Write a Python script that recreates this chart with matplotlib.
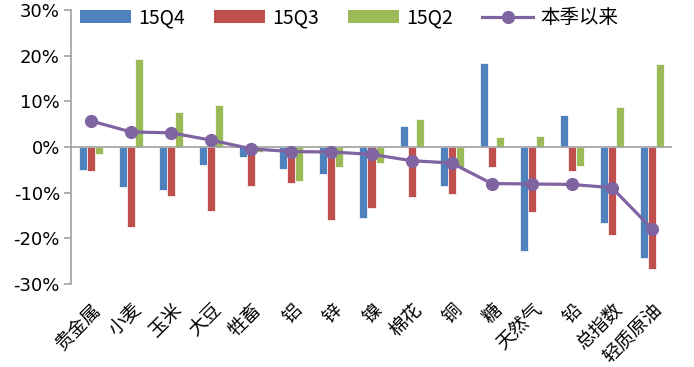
import matplotlib
matplotlib.use("Agg")
import matplotlib.pyplot as plt
import numpy as np
from matplotlib.lines import Line2D
from matplotlib.patches import Patch

plt.rcParams['font.family'] = ['Noto Sans CJK SC', 'DejaVu Sans']

categories = ["贵金属", "小麦", "玉米", "大豆", "牲畜", "铝", "锌", "镍", "棉花", "铜", "糖", "天然气", "铅", "总指数", "轻质原油"]
q4 = [-5.0, -8.8, -9.5, -3.9, -2.2, -4.9, -5.9, -15.6, 4.5, -8.6, 18.4, -22.8, 7.0, -16.6, -24.4]
q3 = [-5.2, -17.6, -10.8, -14.0, -8.6, -7.9, -15.9, -13.4, -11.0, -10.3, -4.3, -14.3, -5.2, -19.3, -26.8]
q2 = [-1.5, 19.3, 7.7, 9.2, -1.1, -7.5, -4.3, -3.6, 6.2, -4.4, 2.2, 2.4, -4.2, 8.8, 18.2]
since = [5.7, 3.3, 3.1, 1.5, -0.4, -1.0, -1.1, -1.6, -3.0, -3.5, -8.0, -8.1, -8.2, -8.9, -17.9]
series_names = ["15Q4", "15Q3", "15Q2", "本季以来"]
yticks = [-30, -20, -10, 0, 10, 20, 30]
ytick_labels = ["-30%", "-20%", "-10%", "0%", "10%", "20%", "30%"]

colors = ["#4F81BD", "#C0504D", "#9BBB59", "#8064A2"]

fig = plt.figure(figsize=(6.94, 3.67), dpi=100)
ax = fig.add_axes([71/694, 1-284/367, (672-71)/694, (284-10)/367])

x = np.arange(len(categories))
w = 0.2
for i, (vals, c) in enumerate(zip([q4, q3, q2], colors[:3])):
    ax.bar(x + (i-1)*w, vals, width=w, color=c, edgecolor='white', linewidth=0.5, zorder=2)
ax.axhline(0, color='#A0A0A0', linewidth=1.2, zorder=3)
ax.plot(x, since, color=colors[3], linewidth=2.3, marker='o', markersize=8.5, zorder=4)

ax.set_xlim(-0.5, len(categories)-0.5)
ax.set_ylim(-30, 30)
ax.set_yticks(yticks)
ax.set_yticklabels(ytick_labels, fontsize=13, family=['DejaVu Sans'])
ax.tick_params(axis='y', length=5, width=1.2, color='#A0A0A0', pad=3)
ax.set_xticks(x)
ax.set_xticklabels(categories, rotation=45, ha='right', va='top', rotation_mode='anchor', fontsize=13.5)
ax.tick_params(axis='x', length=0, pad=11)
for s in ['top', 'right', 'bottom']:
    ax.spines[s].set_visible(False)
ax.spines['left'].set_color('#A0A0A0')
ax.spines['left'].set_linewidth(1.2)

handles = [Patch(facecolor=c) for c in colors[:3]] + [Line2D([0], [0], color=colors[3], linewidth=2.3, marker='o', markersize=8.5)]
leg = ax.legend(handles, series_names, loc='upper left', bbox_to_anchor=(-0.008, 1.06), ncol=4, frameon=False,
                fontsize=14, handlelength=2.63, handleheight=0.62, columnspacing=1.5, handletextpad=0.36,
                borderaxespad=0.3)

fig.savefig("out.png", dpi=100)
